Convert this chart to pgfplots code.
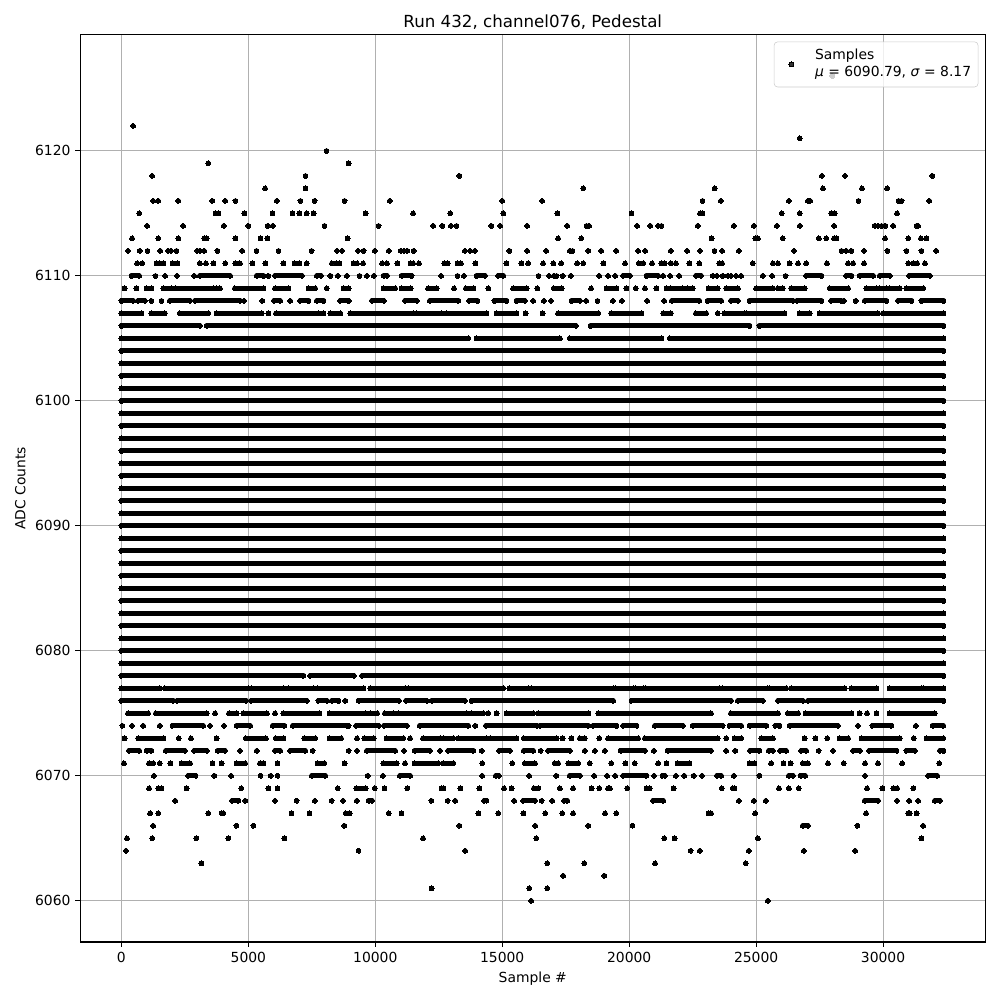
\documentclass[border=0pt]{standalone}
\usepackage{fontspec}
\setmainfont{DejaVu Sans}
\usepackage{pgfplots}
\pgfplotsset{compat=1.18}
\definecolor{gridc}{HTML}{B0B0B0}
\definecolor{legc}{HTML}{CCCCCC}
\pgfplotsset{
  seg/.style={black, line width=3.6pt, line cap=round, mark=*, mark size=1.75pt,
    mark options={solid, line width=0pt, fill=black}, unbounded coords=jump, forget plot},
  dots/.style={only marks, mark=*, mark size=1.75pt, mark options={solid, line width=0pt, fill=black}},
  legdot/.style={legend image code/.code={\draw[mark repeat=2,mark phase=2,##1] plot coordinates {(0cm,0cm) (0.3cm,0cm) (0.6cm,0cm)}; \path[draw=none, fill=none] (-0.03cm,-2.5pt) rectangle (0.6cm,6pt);}},
}
\begin{document}
\begin{tikzpicture}
\path[use as bounding box] (-57.8pt,-41.76pt) rectangle ++(720pt,720pt);
\begin{axis}[
  at={(0,0)}, anchor=south west,
  scale only axis, width=651.6pt, height=653.3pt,
  xmin=-1620, xmax=34026, ymin=6056.7, ymax=6129.3,
  xtick={0,5000,10000,15000,20000,25000,30000},
  ytick={6060,6070,6080,6090,6100,6110,6120},
  scaled x ticks=false, scaled y ticks=false,
  /pgf/number format/1000 sep={},
  /pgf/number format/assume math mode=true,
  tick align=outside, tick pos=left, major tick length=3.5pt,
  tick style={black, line width=0.8pt},
  axis line style={line width=0.8pt},
  grid=major, major grid style={line width=0.8pt, color=gridc},
  tick label style={font=\fontsize{10}{12}\selectfont},
  xlabel={Sample \#}, ylabel={ADC Counts},
  label style={font=\fontsize{10}{12}\selectfont},
  title={Run 432, channel076, Pedestal},
  title style={at={(0.5,1)}, anchor=base, yshift=-1.1pt, font=\fontsize{12}{14}\selectfont},
  legend style={at={(1,1)}, anchor=north east, xshift=-5pt, yshift=-5pt, draw=legc,
    rounded corners=2.5pt, fill=white, fill opacity=0.8, text opacity=1, draw opacity=1,
    inner xsep=3pt, inner ysep=2pt, column sep=6.5pt,
    nodes={inner sep=2pt, text depth=},
    font=\fontsize{10}{12}\selectfont},
  legend cell align=left,
]
% point partly hidden by the legend
\addplot[dots, legdot] coordinates {(28000,6126)};
\addlegendentry{\begin{tabular}{@{}l@{}}Samples\\[0.5pt]\textit{μ} = 6090.79, \textit{σ} = 8.17\end{tabular}}
% sparse upper rows
\addplot[dots, forget plot] coordinates {
(460,6122) (26720,6121) (8080,6120) (3420,6119) (8950,6119)
(1210,6118) (7250,6118) (13310,6118) (27590,6118) (28500,6118) (31940,6118)
(5660,6117) (7250,6117) (18190,6117) (23370,6117) (27630,6117) (29170,6117) (30160,6117)
(1250,6116) (1450,6116) (2240,6116) (3580,6116) (4090,6116) (4490,6116) (6120,6116) (7050,6116) (7610,6116) (8790,6116) (10570,6116) (15000,6116) (16570,6116) (22890,6116) (23610,6116) (26290,6116) (27040,6116) (27130,6116) (29030,6116) (30610,6116) (30730,6116) (31820,6116)
(700,6115) (3710,6115) (3820,6115) (4840,6115) (5950,6115) (6740,6115) (7010,6115) (7300,6115) (7570,6115) (9620,6115) (11490,6115) (12950,6115) (15040,6115) (17170,6115) (20090,6115) (22790,6115) (22890,6115) (26010,6115) (26720,6115) (27960,6115) (28090,6115) (30550,6115)
(1010,6114) (2430,6114) (4030,6114) (5000,6114) (5760,6114) (5960,6114) (8000,6114) (10130,6114) (12280,6114) (12640,6114) (12980,6114) (13200,6114) (14570,6114) (14920,6114) (15980,6114) (17560,6114) (18320,6114) (18420,6114) (20310,6114) (20830,6114) (21140,6114) (21270,6114) (22700,6114) (24120,6114) (24910,6114) (25820,6114) (26720,6114) (28070,6114) (29670,6114) (29800,6114) (29940,6114) (30090,6114) (30400,6114) (31320,6114) (31380,6114)
(420,6113) (1450,6113) (2240,6113) (3260,6113) (3360,6113) (4490,6113) (5480,6113) (5750,6113) (8910,6113) (17200,6113) (18110,6113) (23250,6113) (24970,6113) (25070,6113) (26050,6113) (27470,6113) (27760,6113) (28070,6113) (28160,6113) (30080,6113) (30990,6113) (31490,6113) (31710,6113)
(260,6112) (720,6112) (1030,6112) (1530,6112) (1840,6112) (1950,6112) (2170,6112) (2990,6112) (3090,6112) (3260,6112) (3780,6112) (4760,6112) (5320,6112) (6190,6112) (7490,6112) (8490,6112) (8690,6112) (9320,6112) (9540,6112) (9980,6112) (10530,6112) (11000,6112) (11130,6112) (11260,6112) (11510,6112) (13530,6112) (13730,6112) (13920,6112) (15280,6112) (15980,6112) (16730,6112) (17660,6112) (17770,6112) (18390,6112) (18900,6112) (19490,6112) (20350,6112) (20630,6112) (21640,6112) (22280,6112) (22790,6112) (23360,6112) (23660,6112) (24320,6112) (26490,6112) (28360,6112) (28550,6112) (28750,6112) (29250,6112) (30170,6112) (30920,6112) (31510,6112) (32090,6112)
(620,6111) (820,6111) (1380,6111) (1510,6111) (1650,6111) (2010,6111) (2210,6111) (3090,6111) (3330,6111) (3620,6111) (4090,6111) (4490,6111) (4670,6111) (5160,6111) (5670,6111) (6380,6111) (6820,6111) (7010,6111) (7300,6111) (8290,6111) (8460,6111) (8590,6111) (9150,6111) (9280,6111) (9520,6111) (10270,6111) (10460,6111) (10870,6111) (11390,6111) (11490,6111) (11720,6111) (12720,6111) (12850,6111) (13240,6111) (13370,6111) (13940,6111) (15160,6111) (15750,6111) (16020,6111) (16610,6111) (17010,6111) (17320,6111) (17950,6111) (18190,6111) (18980,6111) (19840,6111) (20380,6111) (20550,6111) (20900,6111) (21270,6111) (21400,6111) (21640,6111) (21840,6111) (22370,6111) (22760,6111) (23550,6111) (23660,6111) (24870,6111) (25660,6111) (25860,6111) (26320,6111) (26650,6111) (26970,6111) (27790,6111) (28620,6111) (28820,6111) (29250,6111) (30990,6111) (31190,6111) (31340,6111) (31650,6111)
};
% row 6110
\addplot[seg] coordinates {
(395,6110) (697,6110) (nan,nan) (1340,6110) (nan,nan) (1720,6110) (nan,nan) (2190,6110) (nan,nan) (2870,6110) (nan,nan)
(3090,6110) (4280,6110) (nan,nan) (5330,6110) (5590,6110) (nan,nan) (5790,6110) (nan,nan) (6050,6110) (7110,6110) (nan,nan)
(7700,6110) (7860,6110) (nan,nan) (8230,6110) (nan,nan) (8520,6110) (nan,nan) (8880,6110) (nan,nan) (9380,6110) (nan,nan)
(9670,6110) (nan,nan) (9940,6110) (nan,nan) (10330,6110) (10460,6110) (nan,nan) (11040,6110) (11430,6110) (nan,nan)
(12590,6110) (nan,nan) (13240,6110) (nan,nan) (13490,6110) (nan,nan) (13990,6110) (14320,6110) (nan,nan) (14840,6110) (15040,6110) (nan,nan)
(16430,6110) (nan,nan) (16840,6110) (nan,nan) (17030,6110) (nan,nan) (17140,6110) (nan,nan) (17380,6110) (nan,nan) (17700,6110) (nan,nan)
(18820,6110) (nan,nan) (19170,6110) (nan,nan) (19450,6110) (nan,nan) (19760,6110) (20030,6110) (nan,nan) (20680,6110) (21140,6110) (nan,nan)
(21340,6110) (nan,nan) (21610,6110) (nan,nan) (21970,6110) (nan,nan) (22630,6110) (22830,6110) (nan,nan) (23290,6110) (nan,nan)
(23450,6110) (nan,nan) (23680,6110) (nan,nan) (23880,6110) (nan,nan) (24010,6110) (nan,nan) (24210,6110) (nan,nan) (24410,6110) (nan,nan)
(25260,6110) (nan,nan) (25630,6110) (nan,nan) (26160,6110) (nan,nan) (26970,6110) (27570,6110) (nan,nan) (28550,6110) (28750,6110) (nan,nan)
(29080,6110) (29610,6110) (nan,nan) (29870,6110) (30260,6110) (nan,nan) (31030,6110) (31840,6110)
};
% row 6109
\addplot[seg] coordinates {
(130,6109) (nan,nan) (590,6109) (nan,nan) (990,6109) (1180,6109) (nan,nan) (1650,6109) (1970,6109) (nan,nan) (2150,6109) (3620,6109) (nan,nan)
(3750,6109) (3880,6109) (nan,nan) (4470,6109) (5590,6109) (nan,nan) (6050,6109) (6580,6109) (nan,nan) (7370,6109) (7630,6109) (nan,nan)
(8090,6109) (nan,nan) (8750,6109) (8950,6109) (nan,nan) (10330,6109) (10780,6109) (nan,nan) (11040,6109) (11390,6109) (nan,nan)
(12080,6109) (12420,6109) (nan,nan) (13100,6109) (nan,nan) (13570,6109) (13860,6109) (nan,nan) (14450,6109) (nan,nan) (15430,6109) (15960,6109) (nan,nan)
(16380,6109) (nan,nan) (17030,6109) (17340,6109) (nan,nan) (18500,6109) (nan,nan) (19110,6109) (19500,6109) (nan,nan) (19890,6109) (nan,nan)
(20260,6109) (nan,nan) (20620,6109) (nan,nan) (21070,6109) (nan,nan) (21470,6109) (nan,nan) (21640,6109) (22110,6109) (nan,nan)
(22300,6109) (nan,nan) (22500,6109) (nan,nan) (23130,6109) (23490,6109) (nan,nan) (23820,6109) (24280,6109) (nan,nan) (25000,6109) (25660,6109) (nan,nan)
(25860,6109) (26050,6109) (nan,nan) (26380,6109) (26910,6109) (nan,nan) (27900,6109) (28620,6109) (nan,nan) (29340,6109) (29740,6109) (nan,nan)
(29870,6109) (30130,6109) (nan,nan) (30260,6109) (30660,6109) (nan,nan) (30920,6109) (31580,6109)
};
% row 6108
\addplot[seg] coordinates {
(0,6108) (460,6108) (nan,nan) (660,6108) (920,6108) (nan,nan) (1180,6108) (nan,nan) (1580,6108) (nan,nan) (1910,6108) (2700,6108) (nan,nan)
(2900,6108) (4670,6108) (nan,nan) (4830,6108) (nan,nan) (5550,6108) (nan,nan) (6010,6108) (6250,6108) (nan,nan) (6650,6108) (nan,nan)
(7040,6108) (7370,6108) (nan,nan) (7700,6108) (7960,6108) (nan,nan) (8620,6108) (8950,6108) (nan,nan) (9870,6108) (10330,6108) (nan,nan)
(11170,6108) (11630,6108) (nan,nan) (12150,6108) (13270,6108) (nan,nan) (13700,6108) (14020,6108) (nan,nan) (14690,6108) (15170,6108) (nan,nan)
(15560,6108) (15890,6108) (nan,nan) (16220,6108) (nan,nan) (16640,6108) (nan,nan) (16920,6108) (nan,nan) (17730,6108) (18060,6108) (nan,nan)
(18310,6108) (nan,nan) (18750,6108) (nan,nan) (19360,6108) (nan,nan) (19710,6108) (nan,nan) (20710,6108) (nan,nan) (21380,6108) (nan,nan)
(21680,6108) (22760,6108) (nan,nan) (23090,6108) (23620,6108) (nan,nan) (24010,6108) (24280,6108) (nan,nan) (24740,6108) (26450,6108) (nan,nan)
(26610,6108) (27570,6108) (nan,nan) (27960,6108) (28360,6108) (nan,nan) (28460,6108) (nan,nan) (28920,6108) (nan,nan) (29280,6108) (30130,6108) (nan,nan)
(30590,6108) (31120,6108) (nan,nan) (31510,6108) (32380,6108)
};
% row 6107
\addplot[seg] coordinates {
(0,6107) (790,6107) (nan,nan) (1180,6107) (1710,6107) (nan,nan) (2300,6107) (3420,6107) (nan,nan) (3750,6107) (5530,6107) (nan,nan)
(5790,6107) (nan,nan) (6090,6107) (7760,6107) (nan,nan) (7960,6107) (nan,nan) (8230,6107) (8620,6107) (nan,nan) (9020,6107) (11490,6107) (nan,nan)
(11620,6107) (12610,6107) (nan,nan) (12810,6107) (14380,6107) (nan,nan) (14780,6107) (15560,6107) (nan,nan) (15920,6107) (nan,nan)
(16590,6107) (nan,nan) (17200,6107) (18780,6107) (nan,nan) (19290,6107) (20480,6107) (nan,nan) (21340,6107) (21640,6107) (nan,nan)
(22630,6107) (23030,6107) (nan,nan) (23490,6107) (nan,nan) (23750,6107) (24540,6107) (nan,nan) (24630,6107) (26120,6107) (nan,nan)
(26710,6107) (27110,6107) (nan,nan) (27500,6107) (29800,6107) (nan,nan) (30000,6107) (32380,6107)
};
% rows 6105 - 6106
\addplot[seg] coordinates {
(0,6106) (3090,6106) (nan,nan) (3360,6106) (17900,6106) (nan,nan) (18480,6106) (24740,6106) (nan,nan) (25130,6106) (32380,6106) (nan,nan)
(0,6105) (13660,6105) (nan,nan) (13990,6105) (17270,6105) (nan,nan) (17660,6105) (21270,6105) (nan,nan) (21600,6105) (32380,6105)
};
% dense rows 6079 - 6104
\addplot[seg] coordinates {
(0,6104) (32380,6104) (nan,nan) (0,6103) (32380,6103) (nan,nan) (0,6102) (32380,6102) (nan,nan) (0,6101) (32380,6101) (nan,nan)
(0,6100) (32380,6100) (nan,nan) (0,6099) (32380,6099) (nan,nan) (0,6098) (32380,6098) (nan,nan) (0,6097) (32380,6097) (nan,nan)
(0,6096) (32380,6096) (nan,nan) (0,6095) (32380,6095) (nan,nan) (0,6094) (32380,6094) (nan,nan) (0,6093) (32380,6093) (nan,nan)
(0,6092) (32380,6092) (nan,nan) (0,6091) (32380,6091) (nan,nan) (0,6090) (32380,6090) (nan,nan) (0,6089) (32380,6089) (nan,nan)
(0,6088) (32380,6088) (nan,nan) (0,6087) (32380,6087) (nan,nan) (0,6086) (32380,6086) (nan,nan) (0,6085) (32380,6085) (nan,nan)
(0,6084) (32380,6084) (nan,nan) (0,6083) (32380,6083) (nan,nan) (0,6082) (32380,6082) (nan,nan) (0,6081) (32380,6081) (nan,nan)
(0,6080) (32380,6080) (nan,nan) (0,6079) (32380,6079)
};
% row 6078
\addplot[seg] coordinates {
(0,6078) (7170,6078) (nan,nan) (7440,6078) (9150,6078) (nan,nan) (9480,6078) (32380,6078)
};
% row 6077
\addplot[seg] coordinates {
(0,6077) (1510,6077) (nan,nan) (1710,6077) (5000,6077) (nan,nan) (5130,6077) (6380,6077) (nan,nan) (6580,6077) (7570,6077) (nan,nan)
(7730,6077) (9530,6077) (nan,nan) (9800,6077) (11170,6077) (nan,nan) (11300,6077) (15040,6077) (nan,nan) (15280,6077) (16020,6077) (nan,nan)
(16140,6077) (19370,6077) (nan,nan) (19470,6077) (20160,6077) (nan,nan) (20260,6077) (20550,6077) (nan,nan) (20660,6077) (23550,6077) (nan,nan)
(23680,6077) (25460,6077) (nan,nan) (25530,6077) (26180,6077) (nan,nan) (26380,6077) (28490,6077) (nan,nan) (28750,6077) (29740,6077) (nan,nan)
(30260,6077) (31510,6077) (nan,nan) (31580,6077) (32380,6077)
};
% row 6076
\addplot[seg] coordinates {
(0,6076) (2040,6076) (nan,nan) (2200,6076) (4910,6076) (nan,nan) (5110,6076) (7300,6076) (nan,nan) (7760,6076) (8090,6076) (nan,nan)
(8290,6076) (8550,6076) (nan,nan) (8820,6076) (nan,nan) (9340,6076) (10930,6076) (nan,nan) (11210,6076) (12020,6076) (nan,nan)
(12220,6076) (13530,6076) (nan,nan) (13790,6076) (19370,6076) (nan,nan) (20090,6076) (24010,6076) (nan,nan) (24280,6076) (25260,6076) (nan,nan)
(25860,6076) (26840,6076) (nan,nan) (27040,6076) (32380,6076)
};
% row 6075
\addplot[seg] coordinates {
(260,6075) (1050,6075) (nan,nan) (1360,6075) (3360,6075) (nan,nan) (3690,6075) (nan,nan) (4240,6075) (4540,6075) (nan,nan)
(4800,6075) (5730,6075) (nan,nan) (6050,6075) (nan,nan) (6380,6075) (7800,6075) (nan,nan) (8200,6075) (9610,6075) (nan,nan)
(9800,6075) (10070,6075) (nan,nan) (10380,6075) (10710,6075) (nan,nan) (10910,6075) (13600,6075) (nan,nan) (13790,6075) (14250,6075) (nan,nan)
(14450,6075) (nan,nan) (14780,6075) (nan,nan) (15170,6075) (16220,6075) (nan,nan) (16420,6075) (18390,6075) (nan,nan) (18780,6075) (23220,6075) (nan,nan)
(24010,6075) (25860,6075) (nan,nan) (26250,6075) (26650,6075) (nan,nan) (26950,6075) (28750,6075) (nan,nan) (29080,6075) (nan,nan)
(29370,6075) (nan,nan) (29740,6075) (nan,nan) (30260,6075) (32040,6075)
};
% row 6074
\addplot[seg] coordinates {
(40,6074) (nan,nan) (420,6074) (nan,nan) (860,6074) (nan,nan) (1510,6074) (nan,nan) (2010,6074) (3220,6074) (nan,nan) (3490,6074) (nan,nan)
(4040,6074) (nan,nan) (4540,6074) (5070,6074) (nan,nan) (5960,6074) (6420,6074) (nan,nan) (6750,6074) (8880,6074) (nan,nan) (8950,6074) (nan,nan)
(9250,6074) (10130,6074) (nan,nan) (10340,6074) (11240,6074) (nan,nan) (11750,6074) (13660,6074) (nan,nan) (13940,6074) (nan,nan)
(14360,6074) (16350,6074) (nan,nan) (16480,6074) (18390,6074) (nan,nan) (18580,6074) (19500,6074) (nan,nan) (19760,6074) (20290,6074) (nan,nan)
(21010,6074) (22110,6074) (nan,nan) (22500,6074) (23680,6074) (nan,nan) (23950,6074) (24410,6074) (nan,nan) (24740,6074) (25400,6074) (nan,nan)
(25760,6074) (25920,6074) (nan,nan) (26320,6074) (28220,6074) (nan,nan) (29010,6074) (nan,nan) (29580,6074) (30330,6074) (nan,nan)
(31290,6074) (nan,nan) (31950,6074) (32370,6074)
};
% row 6073
\addplot[seg] coordinates {
(130,6073) (nan,nan) (660,6073) (1650,6073) (nan,nan) (2260,6073) (nan,nan) (2740,6073) (nan,nan) (3750,6073) (nan,nan) (4900,6073) (5690,6073) (nan,nan)
(6080,6073) (6380,6073) (nan,nan) (7200,6073) (7630,6073) (nan,nan) (8200,6073) (8650,6073) (nan,nan) (9280,6073) (nan,nan) (9570,6073) (9940,6073) (nan,nan)
(10440,6073) (11100,6073) (nan,nan) (11370,6073) (nan,nan) (11880,6073) (12550,6073) (nan,nan) (12700,6073) (13070,6073) (nan,nan)
(13270,6073) (14380,6073) (nan,nan) (14520,6073) (15560,6073) (nan,nan) (15850,6073) (17140,6073) (nan,nan) (17380,6073) (nan,nan)
(17720,6073) (nan,nan) (18060,6073) (18250,6073) (nan,nan) (18820,6073) (nan,nan) (19170,6073) (20350,6073) (nan,nan) (20620,6073) (23490,6073) (nan,nan)
(23820,6073) (nan,nan) (24150,6073) (24410,6073) (nan,nan) (25200,6073) (25660,6073) (nan,nan) (26910,6073) (nan,nan) (27330,6073) (nan,nan)
(27800,6073) (nan,nan) (28290,6073) (28620,6073) (nan,nan) (29150,6073) (30660,6073) (nan,nan) (31210,6073) (nan,nan) (31710,6073) (32370,6073)
};
% row 6072
\addplot[seg] coordinates {
(300,6072) (700,6072) (nan,nan) (990,6072) (1180,6072) (nan,nan) (1750,6072) (2500,6072) (nan,nan) (2870,6072) (3360,6072) (nan,nan)
(3790,6072) (4080,6072) (nan,nan) (4670,6072) (nan,nan) (5330,6072) (nan,nan) (6050,6072) (6250,6072) (nan,nan) (6650,6072) (7240,6072) (nan,nan)
(7530,6072) (nan,nan) (8950,6072) (nan,nan) (9280,6072) (nan,nan) (9670,6072) (10780,6072) (nan,nan) (11130,6072) (nan,nan)
(11550,6072) (12150,6072) (nan,nan) (12550,6072) (nan,nan) (12870,6072) (13860,6072) (nan,nan) (14190,6072) (nan,nan) (14880,6072) (15300,6072) (nan,nan)
(15850,6072) (16220,6072) (nan,nan) (16510,6072) (nan,nan) (16810,6072) (17660,6072) (nan,nan) (18250,6072) (nan,nan) (18650,6072) (nan,nan)
(19040,6072) (nan,nan) (19660,6072) (20620,6072) (nan,nan) (20970,6072) (nan,nan) (21510,6072) (23220,6072) (nan,nan) (23820,6072) (nan,nan)
(24180,6072) (nan,nan) (24760,6072) (25130,6072) (nan,nan) (25500,6072) (25660,6072) (nan,nan) (25950,6072) (26180,6072) (nan,nan)
(26780,6072) (26970,6072) (nan,nan) (27460,6072) (nan,nan) (28030,6072) (nan,nan) (28820,6072) (29080,6072) (nan,nan) (29450,6072) (30530,6072) (nan,nan)
(30920,6072) (31250,6072) (nan,nan) (32240,6072) (32380,6072)
};
% rows 6071 - 6069
\addplot[seg] coordinates {
(100,6071) (nan,nan) (1090,6071) (1250,6071) (nan,nan) (1510,6071) (nan,nan) (1930,6071) (nan,nan) (2370,6071) (2700,6071) (nan,nan)
(3590,6071) (nan,nan) (3950,6071) (nan,nan) (4540,6071) (4870,6071) (nan,nan) (5460,6071) (5590,6071) (nan,nan) (6150,6071) (nan,nan)
(7730,6071) (7990,6071) (nan,nan) (8790,6071) (nan,nan) (10320,6071) (10840,6071) (nan,nan) (11170,6071) (nan,nan) (11550,6071) (12480,6071) (nan,nan)
(12680,6071) (13070,6071) (nan,nan) (14210,6071) (nan,nan) (15390,6071) (nan,nan) (15890,6071) (16290,6071) (nan,nan) (17070,6071) (17200,6071) (nan,nan)
(17600,6071) (17990,6071) (nan,nan) (18450,6071) (nan,nan) (19290,6071) (nan,nan) (19850,6071) (nan,nan) (20220,6071) (nan,nan)
(21140,6071) (nan,nan) (21470,6071) (nan,nan) (21910,6071) (22370,6071) (nan,nan) (24740,6071) (24930,6071) (nan,nan) (25590,6071) (nan,nan)
(26080,6071) (nan,nan) (26360,6071) (nan,nan) (26840,6071) (27040,6071) (nan,nan) (27830,6071) (nan,nan) (28450,6071) (nan,nan)
(29290,6071) (nan,nan) (29800,6071) (nan,nan) (30750,6071) (nan,nan) (32210,6071) (nan,nan)
(1280,6070) (nan,nan) (2630,6070) (2920,6070) (nan,nan) (3660,6070) (nan,nan) (4320,6070) (nan,nan) (5480,6070) (nan,nan) (5880,6070) (nan,nan)
(6150,6070) (nan,nan) (7500,6070) (8030,6070) (nan,nan) (9700,6070) (nan,nan) (10300,6070) (nan,nan) (10970,6070) (11370,6070) (nan,nan)
(14210,6070) (nan,nan) (14750,6070) (14860,6070) (nan,nan) (16060,6070) (nan,nan) (17130,6070) (nan,nan) (17660,6070) (18060,6070) (nan,nan)
(18620,6070) (nan,nan) (19130,6070) (nan,nan) (19450,6070) (nan,nan) (19760,6070) (20680,6070) (nan,nan) (20980,6070) (nan,nan)
(21310,6070) (21400,6070) (nan,nan) (21840,6070) (nan,nan) (22170,6070) (nan,nan) (22540,6070) (nan,nan) (22870,6070) (nan,nan)
(23460,6070) (23620,6070) (nan,nan) (24120,6070) (nan,nan) (25130,6070) (nan,nan) (26290,6070) (26450,6070) (nan,nan) (26750,6070) (26930,6070) (nan,nan)
(29290,6070) (nan,nan) (31780,6070) (32130,6070) (nan,nan)
(1090,6069) (nan,nan) (1450,6069) (1580,6069) (nan,nan) (2570,6069) (nan,nan) (4720,6069) (nan,nan) (5790,6069) (nan,nan) (6150,6069) (nan,nan)
(8520,6069) (nan,nan) (9250,6069) (9620,6069) (nan,nan) (9980,6069) (nan,nan) (10360,6069) (nan,nan) (11260,6069) (nan,nan) (12610,6069) (12680,6069) (nan,nan)
(13350,6069) (nan,nan) (14100,6069) (nan,nan) (15070,6069) (nan,nan) (15370,6069) (nan,nan) (16250,6069) (16420,6069) (nan,nan) (17270,6069) (nan,nan)
(17790,6069) (nan,nan) (18520,6069) (nan,nan) (18820,6069) (nan,nan) (19170,6069) (19240,6069) (nan,nan) (19920,6069) (nan,nan) (20680,6069) (20810,6069) (nan,nan)
(21750,6069) (nan,nan) (23650,6069) (nan,nan) (24080,6069) (24150,6069) (nan,nan) (25900,6069) (nan,nan) (26290,6069) (nan,nan) (26680,6069) (nan,nan)
(29370,6069) (nan,nan) (29970,6069) (nan,nan) (30400,6069) (30550,6069) (nan,nan) (31190,6069)
};
% rows 6068 - 6060
\addplot[seg] coordinates {
(2120,6068) (nan,nan) (4360,6068) (4610,6068) (nan,nan) (4880,6068) (nan,nan) (6050,6068) (nan,nan) (6900,6068) (nan,nan) (7620,6068) (nan,nan)
(8280,6068) (nan,nan) (8730,6068) (nan,nan) (9270,6068) (nan,nan) (9740,6068) (9870,6068) (nan,nan) (12210,6068) (nan,nan) (12850,6068) (nan,nan)
(13150,6068) (nan,nan) (14290,6068) (14380,6068) (nan,nan) (15470,6068) (nan,nan) (15830,6068) (16290,6068) (nan,nan) (16550,6068) (nan,nan)
(16970,6068) (nan,nan) (17440,6068) (17560,6068) (nan,nan) (20940,6068) (21340,6068) (nan,nan) (24320,6068) (nan,nan) (24910,6068) (nan,nan)
(25380,6068) (nan,nan) (29280,6068) (29800,6068) (nan,nan) (30550,6068) (nan,nan) (31030,6068) (nan,nan) (31380,6068) (nan,nan) (32040,6068) (32240,6068) (nan,nan)
(1130,6067) (nan,nan) (1450,6067) (nan,nan) (3420,6067) (nan,nan) (3950,6067) (4010,6067) (nan,nan) (6700,6067) (nan,nan) (7410,6067) (nan,nan)
(8840,6067) (8990,6067) (nan,nan) (10530,6067) (nan,nan) (11030,6067) (nan,nan) (14060,6067) (nan,nan) (14840,6067) (nan,nan) (15830,6067) (nan,nan)
(16690,6067) (nan,nan) (17360,6067) (nan,nan) (17790,6067) (nan,nan) (19050,6067) (nan,nan) (19490,6067) (nan,nan) (23130,6067) (23220,6067) (nan,nan)
(24960,6067) (nan,nan) (29330,6067) (nan,nan) (30990,6067) (31050,6067) (nan,nan) (31320,6067) (nan,nan)
(1250,6066) (nan,nan) (4530,6066) (nan,nan) (5200,6066) (nan,nan) (8780,6066) (nan,nan) (13310,6066) (nan,nan) (16300,6066) (nan,nan)
(18390,6066) (nan,nan) (20130,6066) (nan,nan) (26840,6066) (27040,6066) (nan,nan) (28990,6066) (nan,nan) (31580,6066) (nan,nan)
(220,6065) (nan,nan) (1210,6065) (nan,nan) (2950,6065) (nan,nan) (4210,6065) (nan,nan) (6420,6065) (nan,nan) (11880,6065) (nan,nan)
(16340,6065) (nan,nan) (21380,6065) (nan,nan) (21790,6065) (nan,nan) (25070,6065) (nan,nan) (31510,6065) (nan,nan)
(180,6064) (nan,nan) (9340,6064) (nan,nan) (13540,6064) (nan,nan) (22420,6064) (nan,nan) (22780,6064) (nan,nan) (24710,6064) (nan,nan)
(26880,6064) (nan,nan) (28900,6064) (nan,nan)
(3150,6063) (nan,nan) (16770,6063) (nan,nan) (18230,6063) (nan,nan) (21020,6063) (nan,nan) (24590,6063) (nan,nan)
(17400,6062) (nan,nan) (19020,6062) (nan,nan)
(12220,6061) (nan,nan) (16060,6061) (nan,nan) (16770,6061) (nan,nan)
(16140,6060) (nan,nan) (25460,6060)
};
\end{axis}
\end{tikzpicture}
\end{document}
